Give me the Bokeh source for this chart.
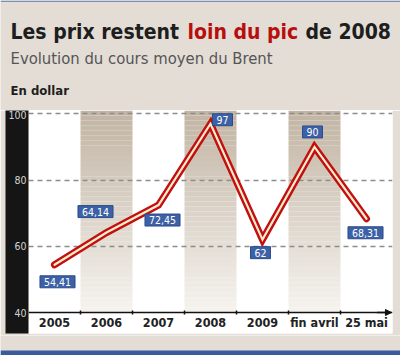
from bokeh.plotting import figure
from bokeh.layouts import column
from bokeh.models import Range1d, FixedTicker, Label, Arrow, NormalHead
from bokeh.core.properties import value
from bokeh.embed import file_html
from bokeh.resources import INLINE

# ---- data ----
categories = ["2005", "2006", "2007", "2008", "2009", "fin avril", "25 mai"]
prices = [54.41, 64.14, 72.45, 97, 62, 90, 68.31]
price_labels = ["54,41", "64,14", "72,45", "97", "62", "90", "68,31"]
y_ticks = [40, 60, 80, 100]
grid_levels = [60, 80, 100]
shaded = ["2006", "2008", "fin avril"]

title_parts = ["Les prix restent", "loin du pic", "de 2008"]
subtitle = "Evolution du cours moyen du Brent"
unit_note = "En dollar"

# label placement (pixels, dy positive = up)
label_dx = [3, -11, 4, 12, -2, -2, -1]
label_dy = [-17, 21, -15, 4, -13, 15, -14]

FONT = "Liberation Sans Narrow, DejaVu Sans Condensed, Roboto"
BG = "#e3ddd5"
RED = "#c20f0f"
BLUE = "#3c61a6"
W = 400

# ---------- header ----------
HH = 110
header = figure(width=W, height=HH, x_range=Range1d(0, W), y_range=Range1d(HH, 0),
                output_backend="svg", toolbar_location=None,
                x_axis_location=None, y_axis_location=None,
                min_border=0, border_fill_color=BG, background_fill_color=BG,
                outline_line_color=None, frame_align=False)
header.grid.visible = False
header.quad(left=[0], right=[W], top=[0], bottom=[1.5], fill_color="#7d8fb5", line_color=None)
header.text(x=[10, 187, 305], y=[31, 31, 31], text=title_parts,
            text_color=["#1e1e1e", "#b80e0e", "#1e1e1e"],
            text_font=value(FONT), text_font_size="21px", text_font_style="bold",
            text_baseline="alphabetic")
header.text(x=[10], y=[58], text=[subtitle], text_color="#555555",
            text_font=value(FONT), text_font_size="16.5px", text_baseline="alphabetic")
header.text(x=[10], y=[90], text=[unit_note], text_color="#1e1e1e",
            text_font=value(FONT), text_font_size="13px", text_font_style="bold",
            text_baseline="alphabetic")

# ---------- chart ----------
xs = [i + 0.5 for i in range(len(categories))]
Y0, Y1 = 33.66, 101.0
AXIS_Y = y_ticks[0]

chart = figure(width=W, height=225, x_range=Range1d(0, len(categories)),
               y_range=Range1d(Y0, Y1), output_backend="svg", toolbar_location=None,
               x_axis_location=None, min_border_left=28, min_border_right=8,
               min_border_top=0, min_border_bottom=2,
               border_fill_color=BG, background_fill_color="white",
               outline_line_color=None, frame_align=False)
chart.grid.visible = False

ya = chart.yaxis[0]
ya.ticker = FixedTicker(ticks=y_ticks)
ya.minor_tick_line_color = None
ya.major_tick_line_color = None
ya.major_tick_out = 0
ya.major_tick_in = 0
ya.minor_tick_out = 0
ya.minor_tick_in = 0
ya.axis_line_color = None
ya.major_label_standoff = 2
ya.major_label_text_color = "#d4d4d4"
ya.major_label_text_font = FONT
ya.major_label_text_font_size = "10.5px"
ya.background_fill_color = "#151515"


def mix(c1, c2, t):
    a = [int(c1[i:i + 2], 16) for i in (1, 3, 5)]
    b = [int(c2[i:i + 2], 16) for i in (1, 3, 5)]
    return "#%02x%02x%02x" % tuple(round(a[k] + (b[k] - a[k]) * t) for k in range(3))


N = 40
L, R, B, T, C = [], [], [], [], []
for cat in shaded:
    i = categories.index(cat)
    for k in range(N):
        L.append(i); R.append(i + 1)
        B.append(AXIS_Y + (Y1 - AXIS_Y) * k / N)
        T.append(AXIS_Y + (Y1 - AXIS_Y) * (k + 1) / N)
        C.append(mix("#f6f3ef", "#c1b4a3", (k + 0.5) / N))
chart.quad(left=L, right=R, bottom=B, top=T, fill_color=C, line_color=None)

chart.hspan(y=grid_levels, line_color="#8c8c8c", line_width=1.5, line_dash="5 4")

chart.hspan(y=[AXIS_Y], line_color="#111111", line_width=1.5)
bounds = list(range(1, len(categories)))
chart.segment(x0=bounds, y0=[AXIS_Y - 0.6] * len(bounds), x1=bounds,
              y1=[AXIS_Y + 0.6] * len(bounds), line_color="#111111", line_width=1.5)
chart.add_layout(Arrow(end=NormalHead(size=6, fill_color="#111111", line_color="#111111"),
                       x_start=len(categories) - 0.3, y_start=AXIS_Y,
                       x_end=len(categories) - 0.02, y_end=AXIS_Y,
                       line_color="#111111", line_width=1.5))

chart.text(x=xs, y=[AXIS_Y - 3.0] * len(xs), text=categories, text_align="center",
           text_baseline="middle", text_font=value(FONT), text_font_size="12.5px",
           text_font_style="bold", text_color="#222222")

chart.line(xs, prices, line_color=RED, line_width=7, line_cap="round", line_join="miter")
chart.line(xs, prices, line_color="#fbeccb", line_width=2.2, line_cap="round", line_join="miter")

for x, y, t, dx, dy in zip(xs, prices, price_labels, label_dx, label_dy):
    chart.add_layout(Label(x=x, y=y, text=t, x_offset=dx, y_offset=dy,
                           text_align="center", text_baseline="middle",
                           text_color="white", text_font=FONT, text_font_size="10.5px",
                           background_fill_color=BLUE, border_line_color="#2c4c8c",
                           padding=(4, 2)))

# ---------- footer ----------
FH = 20
footer = figure(width=W, height=FH, x_range=Range1d(0, W), y_range=Range1d(FH, 0),
                output_backend="svg", toolbar_location=None,
                x_axis_location=None, y_axis_location=None,
                min_border=0, border_fill_color=BG, background_fill_color=BG,
                outline_line_color=None, frame_align=False)
footer.grid.visible = False
footer.quad(left=[0], right=[W], top=[15], bottom=[FH], fill_color="#3a5c9e", line_color=None)

p = column(header, chart, footer, spacing=0)
open("out.html", "w").write(file_html(p, INLINE))
